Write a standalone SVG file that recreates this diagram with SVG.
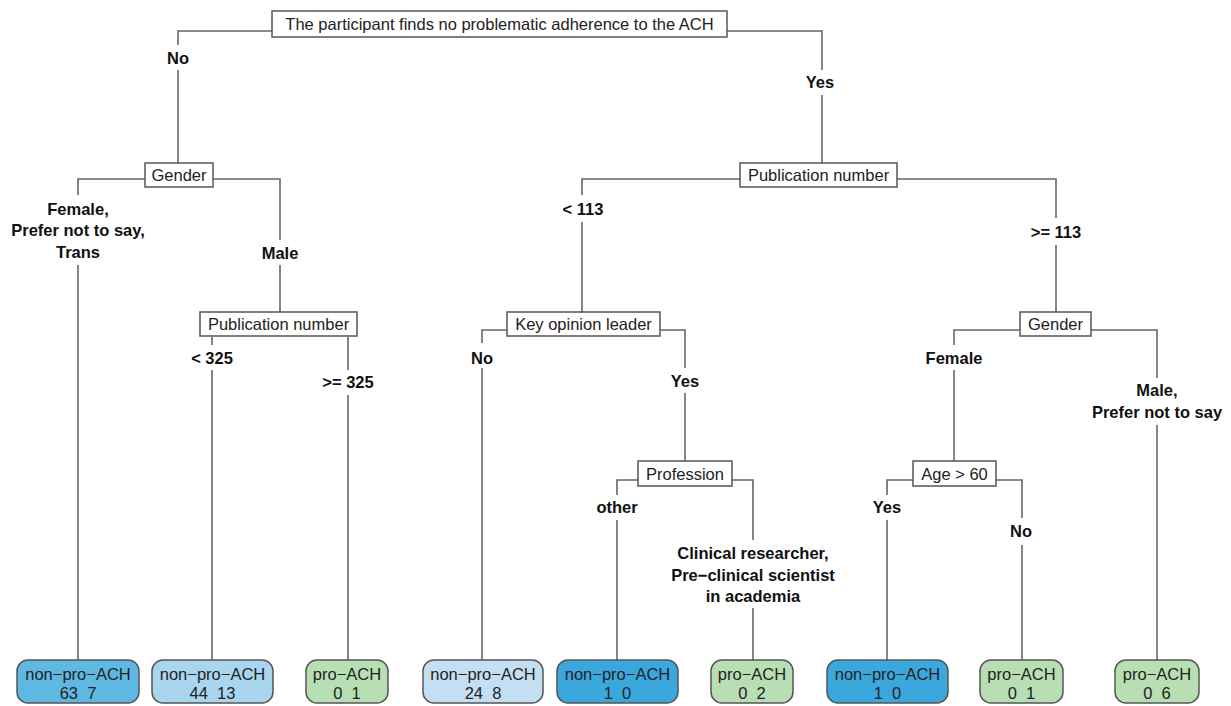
<svg xmlns="http://www.w3.org/2000/svg" width="1231" height="706" viewBox="0 0 1231 706">
<style>
.bg{fill:#ffffff}
.edge{stroke:#666;stroke-width:1.6;fill:none}
.box{fill:#fff;stroke:#555;stroke-width:1.5}
.ntext{font-family:"Liberation Sans",Arial,sans-serif;font-size:16.5px;fill:#222;text-anchor:middle}
.lbl{font-family:"Liberation Sans",Arial,sans-serif;font-size:16.5px;font-weight:bold;fill:#111;text-anchor:middle}
.leaf{stroke:#555;stroke-width:1.5}
.ltext{font-family:"Liberation Sans",Arial,sans-serif;font-size:16.5px;fill:#222;text-anchor:middle;white-space:pre}
.b1{fill:#5fb8e2}.b2{fill:#a9d5ef}.b3{fill:#c4def2}.b4{fill:#3aa8dc}.g{fill:#b8dfb3}
</style>
<rect class="bg" x="0" y="0" width="1231" height="706"/>
<g id="connectors">
<path class="edge" d="M272,31 H178 V45 M178,70 V163"/>
<path class="edge" d="M727,31 H822 V70 M822,95 V163"/>
<path class="edge" d="M145,179 H78 V195 M78,265 V660"/>
<path class="edge" d="M213,179 H280 V240 M280,265 V313"/>
<path class="edge" d="M212,337 V345 M212,370 V660"/>
<path class="edge" d="M348,337 V370 M348,395 V660"/>
<path class="edge" d="M740,179 H582 V195 M582,222 V312"/>
<path class="edge" d="M897,179 H1056 V218 M1056,245 V312"/>
<path class="edge" d="M507,330 H482 V343 M482,368 V660"/>
<path class="edge" d="M660,330 H685 V368 M685,393 V461"/>
<path class="edge" d="M638,480 H617 V495 M617,520 V660"/>
<path class="edge" d="M732,480 H753 V540 M753,608 V660"/>
<path class="edge" d="M1020,330 H954 V345 M954,370 V461"/>
<path class="edge" d="M1091,330 H1157 V378 M1157,425 V660"/>
<path class="edge" d="M913,480 H887 V495 M887,520 V660"/>
<path class="edge" d="M996,480 H1022 V518 M1022,545 V660"/>
</g>
<g id="edge-labels">
<text class="lbl" x="178" y="64">No</text>
<text class="lbl" x="820" y="88">Yes</text>
<text class="lbl" x="78" y="215">Female,</text>
<text class="lbl" x="78" y="236">Prefer not to say,</text>
<text class="lbl" x="78" y="258">Trans</text>
<text class="lbl" x="280" y="259">Male</text>
<text class="lbl" x="212" y="364">&lt; 325</text>
<text class="lbl" x="348" y="388">&gt;= 325</text>
<text class="lbl" x="583" y="215">&lt; 113</text>
<text class="lbl" x="1056" y="238">&gt;= 113</text>
<text class="lbl" x="482" y="364">No</text>
<text class="lbl" x="685" y="387">Yes</text>
<text class="lbl" x="617" y="513">other</text>
<text class="lbl" x="753" y="559">Clinical researcher,</text>
<text class="lbl" x="753" y="581">Pre−clinical scientist</text>
<text class="lbl" x="753" y="602">in academia</text>
<text class="lbl" x="954" y="364">Female</text>
<text class="lbl" x="1157" y="396">Male,</text>
<text class="lbl" x="1157" y="418">Prefer not to say</text>
<text class="lbl" x="887" y="513">Yes</text>
<text class="lbl" x="1021" y="537">No</text>
</g>
<g id="n-root">
<rect class="box" x="272" y="11" width="455" height="26"/>
<text class="ntext" x="499.5" y="30">The participant finds no problematic adherence to the ACH</text>
</g>
<g id="n-gender1">
<rect class="box" x="145" y="163" width="68" height="24"/>
<text class="ntext" x="179" y="181">Gender</text>
</g>
<g id="n-pub1">
<rect class="box" x="740" y="163" width="157" height="24"/>
<text class="ntext" x="818.5" y="181">Publication number</text>
</g>
<g id="n-pub2">
<rect class="box" x="200" y="312" width="157" height="24"/>
<text class="ntext" x="278.5" y="330">Publication number</text>
</g>
<g id="n-kol">
<rect class="box" x="507" y="312" width="153" height="24"/>
<text class="ntext" x="583.5" y="330">Key opinion leader</text>
</g>
<g id="n-gender2">
<rect class="box" x="1020" y="312" width="71" height="24"/>
<text class="ntext" x="1055.5" y="330">Gender</text>
</g>
<g id="n-prof">
<rect class="box" x="638" y="461" width="94" height="25"/>
<text class="ntext" x="685" y="480">Profession</text>
</g>
<g id="n-age">
<rect class="box" x="913" y="461" width="83" height="25"/>
<text class="ntext" x="954.5" y="480">Age &gt; 60</text>
</g>
<g id="leaf1">
<rect class="leaf b1" x="17" y="660" width="122" height="43" rx="11"/>
<text class="ltext" x="78" y="680">non−pro−ACH</text>
<text class="ltext" x="78" y="699">63  7</text>
</g>
<g id="leaf2">
<rect class="leaf b2" x="152" y="660" width="121" height="43" rx="11"/>
<text class="ltext" x="212.5" y="680">non−pro−ACH</text>
<text class="ltext" x="212.5" y="699">44  13</text>
</g>
<g id="leaf3">
<rect class="leaf g" x="306" y="660" width="82" height="43" rx="11"/>
<text class="ltext" x="347" y="680">pro−ACH</text>
<text class="ltext" x="347" y="699">0  1</text>
</g>
<g id="leaf4">
<rect class="leaf b3" x="423" y="660" width="120" height="43" rx="11"/>
<text class="ltext" x="483" y="680">non−pro−ACH</text>
<text class="ltext" x="483" y="699">24  8</text>
</g>
<g id="leaf5">
<rect class="leaf b4" x="557" y="660" width="121" height="43" rx="11"/>
<text class="ltext" x="617.5" y="680">non−pro−ACH</text>
<text class="ltext" x="617.5" y="699">1  0</text>
</g>
<g id="leaf6">
<rect class="leaf g" x="711" y="660" width="82" height="43" rx="11"/>
<text class="ltext" x="752" y="680">pro−ACH</text>
<text class="ltext" x="752" y="699">0  2</text>
</g>
<g id="leaf7">
<rect class="leaf b4" x="827" y="660" width="121" height="43" rx="11"/>
<text class="ltext" x="887.5" y="680">non−pro−ACH</text>
<text class="ltext" x="887.5" y="699">1  0</text>
</g>
<g id="leaf8">
<rect class="leaf g" x="980" y="660" width="83" height="43" rx="11"/>
<text class="ltext" x="1021.5" y="680">pro−ACH</text>
<text class="ltext" x="1021.5" y="699">0  1</text>
</g>
<g id="leaf9">
<rect class="leaf g" x="1115" y="660" width="84" height="43" rx="11"/>
<text class="ltext" x="1157" y="680">pro−ACH</text>
<text class="ltext" x="1157" y="699">0  6</text>
</g>
</svg>
